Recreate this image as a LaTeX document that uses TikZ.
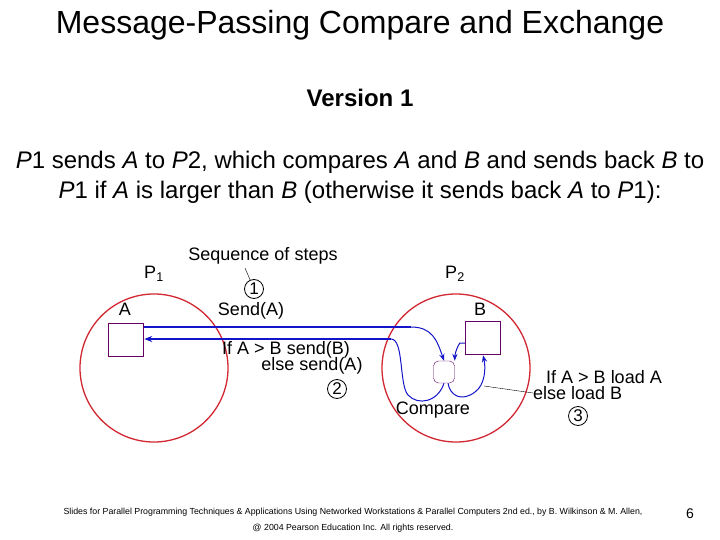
\documentclass[tikz,border=0pt]{standalone}
\usepackage{fontspec}
\setmainfont{Liberation Sans}
\usetikzlibrary{arrows.meta}
\definecolor{myblue}{RGB}{20,20,200}
\definecolor{myred}{RGB}{210,40,50}
\begin{document}
\begin{tikzpicture}[x=1pt,y=-1pt,
 lbl/.style={font=\fontsize{18}{20}\selectfont,inner sep=0},
 num/.style={circle,draw,thick,minimum size=19pt,inner sep=0,font=\fontsize{17}{17}\selectfont},
 proc/.style={draw=myred,line width=1.3pt},
 box/.style={draw=violet!80!black,line width=1.5pt,minimum width=35pt,minimum height=33pt,inner sep=0},
 blu/.style={draw=myblue,line width=1pt},
 bl/.style={blu,-{Stealth[length=7pt]}},
 thk/.style={draw=myblue,line width=2.2pt}]
\useasboundingbox (0,0) rectangle (720,540);
\node (title) at (360,25) {\fontsize{32}{34}\selectfont Message-Passing Compare and Exchange};
\node (ver) at (360,98) {\fontsize{24}{26}\selectfont\bfseries Version 1};
\node (l1) at (360,162) {\fontsize{24}{26}\selectfont \textit{P}1 sends \textit{A} to \textit{P}2, which compares \textit{A} and \textit{B} and sends back \textit{B} to};
\node (l2) at (360,192) {\fontsize{24}{26}\selectfont \textit{P}1 if \textit{A} is larger than \textit{B} (otherwise it sends back \textit{A} to \textit{P}1):};
\draw[proc] (154,368) circle (74);
\draw[proc] (456,368) circle (74);
\node[lbl] (p1) at (154,274) {P\textsubscript{1}};
\node[lbl] (p2) at (455,274) {P\textsubscript{2}};
\node[lbl] (la) at (125,309) {A};
\node[lbl] (lb) at (480,309) {B};
\node[box] (A) at (126,340) {};
\node[box] (B) at (483,338) {};
\node[draw=violet!80!black,rounded corners=5pt,minimum width=21pt,minimum height=22pt,inner sep=0] (C) at (444,372) {};
\coordinate (s1) at (411,327);
\coordinate (r1) at (391,339);
\draw[thk] (A.east |- s1) -- (s1);
\draw[bl] (s1) .. controls (432,327) and (437,340) .. (C.north);
\draw[thk,-{Stealth[length=8pt]}] (r1) -- (A.east |- r1);
\draw[blu] (r1) .. controls (404,339) and (399,385) .. (408,395) .. controls (418,406) and (438,402) .. (C.south);
\draw[bl] (C.south) ++(4,0) .. controls (450,396) and (462,402) .. (475,392) .. controls (485,385) and (486,368) .. (B.south);
\draw[bl] (B.west) ++(0,5) -- ++(-5,0) .. controls (458,346) and (455,352) .. (C.north east);
\node[lbl] (seq) at (263,256) {Sequence of steps};
\node[num] (n1) at (254,289) {1};
\draw (245,268) -- (n1);
\node[lbl] (sa) at (251,311) {Send(A)};
\node[lbl] (if1) at (286,350) {If A > B send(B)};
\node[lbl] (el1) at (312,366) {else send(A)};
\node[num] (n2) at (337,389) {2};
\node[lbl] (cmp) at (433,410) {Compare};
\node[lbl] (if2) at (604,377) {If A > B load A};
\node[lbl,anchor=west] (el2) at (533,393) {else load B};
\node[num] (n3) at (578,416) {3};
\draw (484,386) -- (el2.west);
\node (foot1) at (353,512) {\fontsize{8.8}{9}\selectfont Slides for Parallel Programming Techniques \& Applications Using Networked Workstations \& Parallel Computers 2nd ed., by B. Wilkinson \& M. Allen,};
\node (foot2) at (353,528) {\fontsize{8.8}{9}\selectfont @ 2004 Pearson Education Inc. All rights reserved.};
\node (pg) at (690,514) {\fontsize{14}{14}\selectfont 6};
\end{tikzpicture}
\end{document}
